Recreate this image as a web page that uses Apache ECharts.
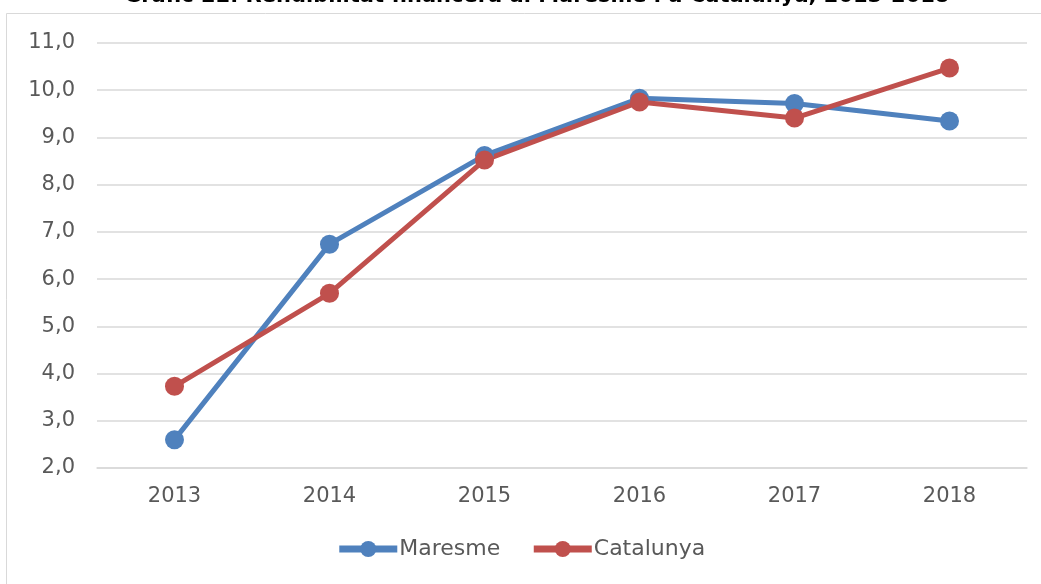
<!DOCTYPE html>
<html><head><meta charset="utf-8">
<script src="https://cdn.jsdelivr.net/npm/echarts@6/dist/echarts.min.js"></script>
<style>html,body{margin:0;padding:0;background:#fff}#c{width:1041px;height:584px}</style>
</head><body><div id="c"></div>
<script>
const titleText = "Gràfic 22. Rendibilitat financera al Maresme i a Catalunya, 2013-2018";
const categories = ["2013","2014","2015","2016","2017","2018"];
const maresme = [2.6, 6.74, 8.62, 9.83, 9.72, 9.35];
const catalunya = [3.73, 5.70, 8.52, 9.75, 9.41, 10.47];
const seriesNames = ["Maresme","Catalunya"];
const fontFam = "'DejaVu Sans', sans-serif";
const chart = echarts.init(document.getElementById('c'));
chart.setOption({
  animation:false,
  backgroundColor:'#fff',
  title:{text:titleText,left:119,top:-19,textStyle:{fontSize:21,fontWeight:'bold',color:'#000',fontFamily:fontFam}},
  graphic:[{type:'rect',shape:{x:6.5,y:13.5,width:1200,height:800},style:{fill:null,stroke:'#d9d9d9',lineWidth:1},silent:true,z:-1}],
  grid:{left:97,right:14,top:43,bottom:116},
  legend:{bottom:19,left:'center',itemWidth:58,itemHeight:20,itemGap:30,
    lineStyle:{width:7},
    textStyle:{fontSize:22,color:'#595959',fontFamily:fontFam,padding:[0,0,0,-3]},data:seriesNames},
  xAxis:{type:'category',data:categories,boundaryGap:true,
    axisLine:{lineStyle:{color:'#d9d9d9',width:1.5}},axisTick:{show:false},
    axisLabel:{fontSize:21,color:'#595959',margin:18,fontFamily:fontFam}},
  yAxis:{type:'value',min:2,max:11,interval:1,
    axisLine:{show:false},axisTick:{show:false},
    splitLine:{lineStyle:{color:'#d9d9d9',width:1.5}},
    axisLabel:{fontSize:21,color:'#595959',margin:22,fontFamily:fontFam,
      formatter:v=>v.toFixed(1).replace('.',',')}},
  series:[
    {name:seriesNames[0],type:'line',data:maresme,symbol:'circle',symbolSize:19,
      lineStyle:{width:5,color:'#4F81BD'},itemStyle:{color:'#4F81BD'}},
    {name:seriesNames[1],type:'line',data:catalunya,symbol:'circle',symbolSize:19,
      lineStyle:{width:5,color:'#C0504D'},itemStyle:{color:'#C0504D'}}
  ]
});
</script></body></html>
